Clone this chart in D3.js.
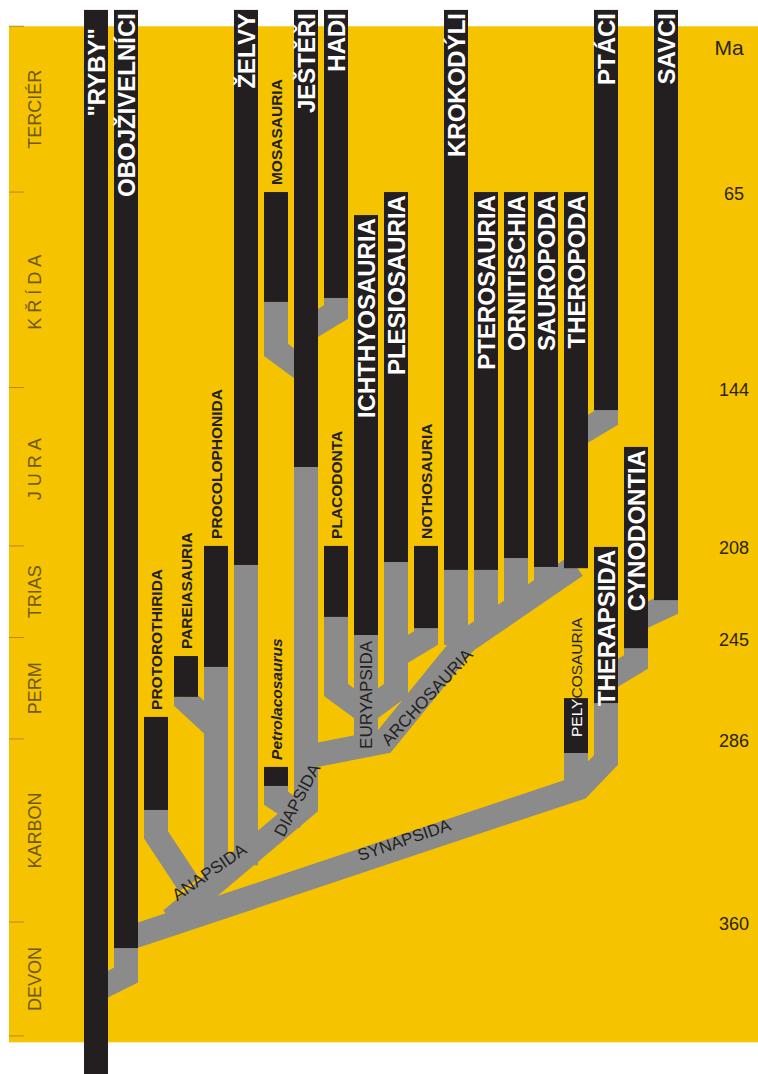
<!DOCTYPE html>
<html>
<head>
<meta charset="utf-8">
<script src="https://cdn.jsdelivr.net/npm/d3@7"></script>
<style>
  body { margin: 0; background: #fff; }
  svg { display: block; font-family: "Liberation Sans", Arial, sans-serif; }
</style>
</head>
<body>
<div id="chart"></div>
<script>
// geologic periods (Ma)
const periodNames = ['TERCIÉR', 'KŘÍDA', 'JURA', 'TRIAS', 'PERM', 'KARBON', 'DEVON'];
const periodBounds = [-2, 65, 144, 208, 245, 286, 360, 406];
const spacedPeriods = ['KŘÍDA', 'JURA'];
const maTicks = [65, 144, 208, 245, 286, 360];

// lineages: name, column, younger end (Ma), older end (Ma), label style
const lineages = [
  ['"RYBY"', 0, -8.6, 421.5, 'big'],
  ['OBOJŽIVELNÍCI', 1, -8.6, 370.5, 'big'],
  ['PROTOROTHIRIDA', 2, 277.1, 314.7, 'small'],
  ['PAREIASAURIA', 3, 252.5, 269.0, 'small'],
  ['PROCOLOPHONIDA', 4, 208.0, 256.9, 'small'],
  ['ŽELVY', 5, -8.6, 215.7, 'big'],
  ['MOSASAURIA', 6, 65.0, 109.4, 'small'],
  ['Petrolacosaurus', 6, 297.3, 305.0, 'italic'],
  ['JEŠTĚŘI', 7, -8.6, 176.1, 'big'],
  ['HADI', 8, -8.6, 107.8, 'big'],
  ['PLACODONTA', 8, 208.0, 236.7, 'small'],
  ['ICHTHYOSAURIA', 9, 74.3, 244.0, 'big'],
  ['PLESIOSAURIA', 10, 65.0, 214.5, 'big'],
  ['NOTHOSAURIA', 11, 208.0, 241.2, 'small'],
  ['KROKODÝLI', 12, -8.6, 217.7, 'big'],
  ['PTEROSAURIA', 13, 65.0, 217.7, 'big'],
  ['ORNITISCHIA', 14, 65.0, 212.9, 'big'],
  ['SAUROPODA', 15, 65.0, 216.5, 'big'],
  ['THEROPODA', 16, 65.0, 217.0, 'big'],
  ['PELYCOSAURIA', 16, 269.5, 291.7, 'split'],
  ['PTÁCI', 17, -8.6, 153.1, 'big'],
  ['THERAPSIDA', 17, 208.4, 271.5, 'big'],
  ['CYNODONTIA', 18, 168.0, 249.3, 'big'],
  ['SAVCI', 19, -8.6, 229.9, 'big'],
];

// grey ancestral branches: [column, Ma] points
const branches = [
  [[1, 370.5], [1, 381.4], [0, 387.5]],
  [[1, 366.9], [16.1, 305.8], [17, 294.5], [17, 271.5]],
  [[16, 291.7], [16, 304]],
  [[18, 249.3], [18, 254.9], [17, 262.2]],
  [[19, 229.9], [19, 232.3], [18, 238]],
  [[17, 153.1], [17, 156.3], [16, 163.6]],
  [[16, 216.1], [12.3, 246.8]],
  [[15, 216.5], [15, 224.2]],
  [[14, 212.9], [14, 232.3]],
  [[13, 217.7], [13, 240.4]],
  [[12, 217.7], [12, 248]],
  [[12.3, 246.8], [9.6, 287.2], [7, 293.3]],
  [[9, 244], [9, 289]],
  [[10, 214.5], [10, 266.2], [9, 275.1]],
  [[11, 241.2], [11, 245.2], [10, 252.5]],
  [[8, 236.7], [8, 266.2], [9, 275.1]],
  [[8, 107.8], [8, 113.5], [7, 120.8]],
  [[6, 109.4], [6, 128.8], [7, 137.7]],
  [[7, 176.1], [7, 313], [2.5, 359]],
  [[2, 314.7], [2, 324.8], [3.1, 345]],
  [[3, 269], [3, 270.5], [4, 281.7]],
  [[4, 256.9], [4, 346]],
  [[5, 215.7], [5, 337]],
  [[6, 305], [6, 310], [7, 318]],
];

// labels on grey branches: text, column, Ma, angle
const branchLabels = [
  ['ANAPSIDA', 3.77, 339.8, -35],
  ['DIAPSIDA', 6.7, 310.7, -62],
  ['SYNAPSIDA', 10.27, 326.8, -19],
  ['EURYAPSIDA', 9, 268.2, -90],
  ['ARCHOSAURIA', 11.03, 269.1, -47],
];

const W = 758, H = 1074;
const YELLOW = '#F6C300', GREY = '#8B8B8B', BLACK = '#231F20', DARK = '#231F20';
const BAR_W = 24;

const x = d3.scaleLinear().domain([0, 19]).range([96, 666]);
const y = d3.scaleLinear().domain([0, 410]).range([31.2, 31.2 + 410 * 2.4746]);

const svg = d3.select('#chart').append('svg')
  .attr('width', W)
  .attr('height', H)
  .attr('viewBox', `0 0 ${W} ${H}`);

// background panel
svg.append('rect')
  .attr('x', 9)
  .attr('y', y(periodBounds[0]))
  .attr('width', W - 9)
  .attr('height', y(408.6) - y(periodBounds[0]))
  .attr('fill', YELLOW);

// period boundary ticks
svg.append('g')
  .selectAll('line')
  .data(periodBounds)
  .join('line')
  .attr('x1', 9)
  .attr('x2', 24)
  .attr('y1', d => y(d))
  .attr('y2', d => y(d))
  .attr('stroke', '#b08a20')
  .attr('stroke-width', 1);

// period names
svg.append('g')
  .selectAll('text')
  .data(periodNames)
  .join('text')
  .attr('transform', (d, i) => `translate(35,${y((periodBounds[i] + periodBounds[i + 1]) / 2)}) rotate(-90)`)
  .attr('text-anchor', 'middle')
  .attr('dy', '0.35em')
  .attr('font-size', 18)
  .attr('letter-spacing', d => spacedPeriods.includes(d) ? 5 : 0)
  .attr('fill', '#6e5816')
  .text(d => d);

// Ma axis on the right
svg.append('text')
  .attr('x', 729)
  .attr('y', 48)
  .attr('dy', '0.35em')
  .attr('text-anchor', 'middle')
  .attr('font-size', 21)
  .attr('fill', '#2a2410')
  .text('Ma');

svg.append('g')
  .selectAll('text')
  .data(maTicks)
  .join('text')
  .attr('x', 734)
  .attr('y', d => y(d) + 2)
  .attr('dy', '0.35em')
  .attr('text-anchor', 'middle')
  .attr('font-size', 18)
  .attr('fill', '#2a2410')
  .text(d => d);

// grey branches
const line = d3.line().x(d => x(d[0])).y(d => y(d[1]));
svg.append('g')
  .selectAll('path')
  .data(branches)
  .join('path')
  .attr('d', line)
  .attr('fill', 'none')
  .attr('stroke', GREY)
  .attr('stroke-width', BAR_W)
  .attr('stroke-linejoin', 'miter')
  .attr('stroke-linecap', 'butt');

// lineage bars
svg.append('g')
  .selectAll('rect')
  .data(lineages)
  .join('rect')
  .attr('x', d => x(d[1]) - BAR_W / 2)
  .attr('y', d => y(d[2]))
  .attr('width', BAR_W)
  .attr('height', d => y(d[3]) - y(d[2]))
  .attr('fill', BLACK);

// branch labels
svg.append('g')
  .selectAll('text')
  .data(branchLabels)
  .join('text')
  .attr('transform', d => `translate(${x(d[1])},${y(d[2])}) rotate(${d[3]})`)
  .attr('text-anchor', 'middle')
  .attr('dy', '0.35em')
  .attr('font-size', 17)
  .attr('fill', DARK)
  .text(d => d[0]);

// lineage labels
const labels = svg.append('g');
lineages.forEach(([name, col, top, bottom, kind]) => {
  const cx = x(col);
  if (kind === 'big') {
    let y0 = Math.max(y(top), 10) + 3;
    if (name === '"RYBY"') y0 = 28;
    labels.append('text')
      .attr('transform', `translate(${cx},${y0}) rotate(-90)`)
      .attr('text-anchor', 'end')
      .attr('dy', '0.36em')
      .attr('font-size', 24)
      .attr('font-weight', 'bold')
      .attr('fill', '#fff')
      .text(name);
  } else if (kind === 'small' || kind === 'italic') {
    labels.append('text')
      .attr('transform', `translate(${cx},${y(top) - 7}) rotate(-90)`)
      .attr('text-anchor', 'start')
      .attr('dy', '0.36em')
      .attr('font-size', 15.5)
      .attr('font-weight', 'bold')
      .attr('font-style', kind === 'italic' ? 'italic' : 'normal')
      .attr('fill', DARK)
      .text(name);
  } else {
    // label running out of its short bar: white inside, dark outside
    const clipId = 'clip-' + col;
    svg.append('clipPath').attr('id', clipId)
      .append('rect')
      .attr('x', cx - BAR_W / 2)
      .attr('y', y(top))
      .attr('width', BAR_W)
      .attr('height', y(bottom) - y(top));
    const y0 = y(bottom) - 16;
    [DARK, '#fff'].forEach((c, i) => {
      const g = labels.append('g');
      if (i === 1) g.attr('clip-path', `url(#${clipId})`);
      g.append('text')
        .attr('transform', `translate(${cx},${y0}) rotate(-90)`)
        .attr('text-anchor', 'start')
        .attr('dy', '0.36em')
        .attr('font-size', 15.5)
        .attr('fill', c)
        .text(name);
    });
  }
});
</script>
</body>
</html>
